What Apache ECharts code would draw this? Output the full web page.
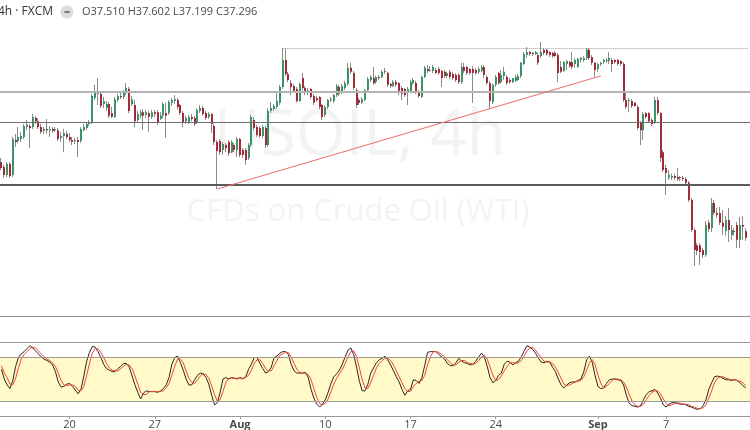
<!DOCTYPE html>
<html><head><meta charset="utf-8">
<script src="https://cdn.jsdelivr.net/npm/echarts@6/dist/echarts.min.js"></script>
<style>html,body{margin:0;padding:0;background:#fff;overflow:hidden}#c{width:750px;height:430px}</style>
</head><body><div id="c"></div>
<script>
// ---- data (USOIL 4h, FXCM) ----
const days = ["Jul 14","Jul 15","Jul 16","Jul 17","Jul 20","Jul 21","Jul 22","Jul 23","Jul 24",
  "Jul 27","Jul 28","Jul 29","Jul 30","Jul 31","Aug 3","Aug 4","Aug 5","Aug 6","Aug 7",
  "Aug 10","Aug 11","Aug 12","Aug 13","Aug 14","Aug 17","Aug 18","Aug 19","Aug 20","Aug 21",
  "Aug 24","Aug 25","Aug 26","Aug 27","Aug 28","Aug 31","Sep 1","Sep 2","Sep 3","Sep 4",
  "Sep 7","Sep 8","Sep 9","Sep 10","Sep 11"];
const hours = ["00:00","04:00","08:00","12:00","16:00","20:00"];

const opens = [39.74,39.58,39.32,39.68,39.32,40.45,40.42,40.48,40.55,40.87,
40.90,40.87,41.16,41.06,40.87,40.74,40.81,40.77,40.81,40.77,
40.77,40.52,40.58,40.65,40.55,40.45,40.42,40.45,40.42,40.77,
40.84,40.97,41.00,41.81,41.94,41.94,41.61,41.48,41.61,41.32,
41.19,41.74,41.87,41.84,41.97,42.10,41.61,41.58,41.10,41.23,
41.35,41.26,41.32,41.19,41.35,41.35,41.13,41.23,41.32,41.32,
41.65,41.71,41.74,41.58,41.32,41.06,41.03,41.19,41.16,41.03,
41.39,41.48,41.32,41.19,41.29,40.90,40.39,40.42,40.13,40.29,
40.39,40.06,40.29,40.13,40.48,40.13,40.13,39.87,40.29,41.10,
40.87,40.84,40.58,40.84,40.29,41.39,41.45,41.52,41.65,42.16,
43.03,42.58,42.29,42.19,42.10,41.71,42.45,42.13,42.00,42.10,
41.87,41.81,41.84,41.58,41.26,41.52,41.74,41.71,41.90,42.16,
42.00,42.13,42.26,42.78,42.61,42.06,41.74,41.65,41.74,42.06,
42.39,42.45,42.32,42.48,42.48,42.65,42.61,42.26,42.19,42.32,
42.29,42.13,42.10,42.03,42.03,42.29,42.29,42.00,41.84,42.48,
42.74,42.71,42.68,42.71,42.74,42.68,42.65,42.52,42.65,42.58,
42.55,42.55,42.32,42.81,42.81,42.74,42.74,42.71,42.65,42.68,
42.81,42.48,42.29,41.68,42.23,42.61,42.32,42.52,42.48,42.39,
42.32,42.36,42.39,42.52,42.90,43.19,43.29,43.26,43.23,43.19,
43.16,43.36,43.36,43.29,43.26,43.26,43.19,42.81,42.68,42.90,
42.97,42.97,42.90,42.81,43.03,43.03,43.10,43.36,43.13,42.94,
42.74,42.90,42.97,43.00,43.00,43.03,43.03,43.03,43.00,42.90,
41.74,41.71,41.71,41.65,41.52,41.00,40.77,41.32,41.32,41.10,
41.00,41.74,41.32,40.06,39.55,39.23,39.23,39.29,39.26,39.23,
39.23,39.19,39.07,38.52,37.55,37.06,37.06,36.90,36.74,37.78,
37.61,38.42,38.10,38.10,37.78,37.52,37.87,37.39,37.52,37.71,
37.23,37.71,37.510];
const closes = [39.55,39.32,39.68,39.29,40.48,40.39,40.55,40.58,40.90,40.94,
40.84,41.19,41.06,40.87,40.71,40.81,40.77,40.81,40.74,40.81,
40.48,40.58,40.68,40.55,40.45,40.39,40.45,40.39,40.81,40.87,
40.97,41.00,41.87,41.97,41.97,41.55,41.71,41.61,41.23,41.19,
41.77,41.87,41.84,42.00,42.13,41.39,41.77,41.06,41.29,41.35,
41.23,41.35,41.19,41.35,41.29,41.00,41.23,41.61,41.23,41.68,
41.74,41.77,41.52,41.32,41.03,41.16,41.19,41.13,40.97,41.42,
41.48,41.29,41.16,41.29,40.97,40.39,40.10,40.06,40.32,40.19,
40.03,40.39,40.13,40.48,39.97,39.97,39.81,40.29,41.19,40.84,
40.61,40.58,40.87,40.29,41.39,41.48,41.55,41.71,42.16,43.03,
42.58,42.39,42.16,42.03,41.71,42.26,42.13,41.97,42.06,41.84,
41.65,41.74,41.52,41.19,41.52,41.74,41.77,41.90,42.19,41.94,
42.19,42.29,42.78,42.65,42.13,41.58,41.65,41.77,42.06,42.42,
42.48,42.29,42.48,42.45,42.65,42.68,42.23,42.19,42.32,42.23,
41.97,41.94,41.90,42.10,42.32,42.39,41.97,41.87,42.48,42.78,
42.68,42.72,42.81,42.61,42.61,42.45,42.52,42.61,42.48,42.45,
42.39,42.32,42.81,42.68,42.61,42.61,42.61,42.61,42.74,42.81,
42.55,42.29,41.71,42.23,42.48,42.29,42.55,42.65,42.29,42.32,
42.45,42.48,42.52,42.94,43.23,43.29,43.23,43.23,43.29,42.94,
43.29,43.26,43.23,43.19,43.16,43.16,42.61,42.65,42.97,43.00,
42.84,42.81,43.03,43.07,43.10,43.10,43.36,43.10,42.94,42.71,
42.90,42.94,43.03,43.03,43.10,42.90,42.97,42.90,42.90,41.74,
41.52,41.74,41.55,41.55,40.84,40.77,41.29,41.19,41.06,40.97,
41.74,41.32,39.87,39.48,39.39,39.32,39.29,39.23,39.19,39.26,
39.19,39.07,38.52,37.55,36.90,36.87,36.84,36.74,37.71,37.58,
38.42,38.10,38.03,37.78,37.65,37.87,37.55,37.55,37.48,37.23,
37.71,37.65,37.296];
const lows = [39.48,39.23,39.26,39.23,39.26,40.23,40.35,40.39,40.48,40.77,
40.19,40.81,40.97,40.81,40.65,40.65,40.65,40.55,40.68,40.71,
40.42,40.39,40.06,40.48,40.39,40.29,40.32,39.90,40.35,40.74,
40.77,40.90,40.97,41.74,41.58,41.48,41.48,41.39,41.16,41.16,
41.16,41.68,41.77,41.77,41.90,41.32,41.55,40.87,41.03,41.16,
40.77,41.16,40.71,41.13,41.19,40.94,41.10,41.16,40.52,41.26,
41.55,41.61,41.45,41.26,40.87,40.97,40.97,41.06,40.90,40.97,
41.32,41.23,41.10,41.13,40.68,40.29,38.87,39.97,39.97,40.06,
39.94,40.03,40.06,39.90,39.90,39.87,39.65,39.81,40.23,40.77,
40.55,40.52,40.52,40.19,40.23,41.32,41.39,41.45,41.58,42.10,
42.52,42.32,41.90,41.97,41.65,41.68,42.06,41.90,41.90,41.77,
41.58,41.68,41.45,41.10,41.19,41.45,41.68,41.65,41.84,41.87,
41.94,42.06,42.19,42.58,42.06,41.48,41.58,41.61,41.71,42.03,
42.32,42.23,42.26,42.39,42.45,42.58,42.16,42.13,42.16,42.16,
41.90,41.74,41.84,41.58,41.97,42.23,41.94,41.81,41.81,42.45,
42.61,42.65,42.61,42.58,42.55,42.16,42.45,42.45,42.42,42.39,
42.32,42.26,42.26,42.61,42.55,42.55,41.65,42.55,42.58,42.65,
42.45,42.23,41.45,41.61,42.16,42.23,42.26,42.39,42.23,42.26,
42.29,42.32,42.36,42.45,42.87,43.10,43.16,43.16,43.19,42.87,
43.10,43.19,43.16,43.13,43.10,43.13,42.32,42.61,42.65,42.71,
42.78,42.74,42.78,42.78,42.94,42.97,43.03,43.03,42.87,42.48,
42.65,42.84,42.90,42.94,42.90,42.65,42.90,42.84,42.84,41.68,
41.45,41.35,41.48,41.52,40.77,40.29,40.45,41.13,41.00,40.90,
40.97,41.26,39.74,39.42,38.68,39.16,39.16,39.16,39.13,39.13,
39.13,39.00,38.45,37.48,36.39,36.74,36.42,36.65,36.68,37.48,
37.48,38.03,37.94,37.71,37.39,37.36,37.16,37.23,37.36,36.97,
36.97,37.23,37.199];
const highs = [39.87,39.65,39.74,39.74,40.55,40.65,40.87,40.71,40.97,41.10,
40.97,41.29,41.23,41.16,40.97,40.87,41.13,40.90,40.87,40.87,
40.84,40.71,40.81,40.74,40.68,40.55,40.52,40.55,40.87,40.97,
41.03,41.10,41.94,42.23,42.45,42.00,41.84,41.71,41.68,41.52,
41.84,41.94,41.97,42.06,42.29,42.16,41.87,41.74,41.39,41.42,
41.45,41.42,41.39,41.42,41.42,41.42,41.35,41.68,41.65,41.74,
41.81,41.90,41.81,41.61,41.39,41.23,41.26,41.29,41.23,41.48,
41.58,41.55,41.39,41.35,41.32,40.97,40.45,40.48,40.39,40.35,
40.45,40.45,40.35,40.55,40.52,40.19,40.19,40.35,41.26,41.19,
40.94,40.90,40.94,40.90,41.48,41.68,41.61,41.97,42.23,43.42,
43.42,42.65,42.39,42.26,42.16,42.32,42.61,42.19,42.13,42.13,
41.94,41.87,41.87,41.61,41.58,41.77,41.84,41.94,42.26,42.23,
42.26,42.36,42.94,42.94,42.68,42.13,41.81,41.84,42.10,42.48,
42.55,42.81,42.52,42.55,42.71,42.78,42.65,42.29,42.39,42.39,
42.32,42.19,42.13,42.16,42.39,42.45,42.36,42.06,42.52,42.84,
42.87,42.84,42.87,42.78,42.81,42.71,42.71,42.65,42.71,42.65,
42.61,42.61,42.94,42.94,42.84,42.78,42.84,42.78,42.81,42.87,
42.87,42.55,42.36,42.26,42.55,42.65,42.71,42.81,42.55,42.45,
42.45,42.55,42.58,42.97,43.29,43.45,43.32,43.29,43.32,43.26,
43.61,43.42,43.39,43.32,43.29,43.32,43.26,43.00,43.00,43.03,
43.00,43.29,43.10,43.10,43.13,43.16,43.42,43.42,43.19,42.97,
42.94,42.97,43.07,43.10,43.29,43.10,43.07,43.07,43.03,42.97,
41.97,41.81,41.77,41.68,41.58,41.06,41.35,41.35,41.35,41.16,
41.84,41.84,41.35,40.13,39.65,39.48,39.36,39.36,39.55,39.29,
39.29,39.26,39.13,38.58,37.61,37.13,37.13,36.97,37.84,37.87,
38.58,38.52,38.26,38.29,38.19,38.00,38.26,37.71,37.61,37.81,
37.97,38.00,37.602];

// Stochastic %K (black) and %D (red)
const stochK = [63,50,42,37,48,67,79,84,87,91,
95,92,88,84,80,77,75,73,69,60,
46,39,40,43,44,40,35,30,36,54,
74,86,94,93,87,79,70,64,62,60,
60,64,67,71,71,66,54,42,32,23,
31,34,33,33,33,32,34,37,42,52,
70,79,81,72,62,50,42,42,49,55,
58,57,52,43,28,15,18,32,50,52,
50,52,51,50,52,50,53,63,70,79,
79,71,64,58,60,66,79,81,85,87,
87,83,70,61,58,58,58,59,52,36,
24,16,12,16,22,32,44,53,57,62,
70,80,89,92,83,66,47,34,34,43,
58,65,72,76,78,81,76,69,61,53,
46,36,28,34,36,49,48,44,52,68,
86,87,87,87,83,80,77,71,68,68,
72,78,74,72,71,69,70,74,80,85,
80,67,52,45,48,55,58,70,74,73,
69,72,74,80,88,95,93,90,85,78,
73,72,74,73,66,60,50,42,38,42,
45,46,46,48,50,60,76,81,72,54,
40,37,38,44,49,50,50,49,48,42,
28,17,14,13,12,14,22,29,33,34,
36,31,24,15,12,16,18,18,17,16,
16,15,13,12,10,9,10,14,22,36,
45,53,54,53,51,49,49,48,49,48,
45,41,38];
const stochD = [68,58,52,43,42,51,65,77,83,87,
91,93,92,88,84,80,77,75,72,67,
58,48,42,41,42,42,40,35,34,40,
55,71,85,91,91,86,79,71,65,62,
61,61,64,67,70,69,64,54,43,32,
29,29,33,33,33,33,33,34,38,44,
55,67,77,77,72,61,51,45,44,49,
54,57,56,51,41,29,20,22,33,45,
51,51,51,51,51,51,52,55,62,71,
76,76,71,64,61,61,68,75,82,84,
86,86,80,71,63,59,58,58,56,49,
37,25,17,15,17,23,33,43,51,57,
63,71,80,87,88,80,65,49,38,37,
45,55,65,71,75,78,78,75,69,61,
53,45,37,33,33,40,44,47,48,55,
69,80,87,87,86,83,80,76,72,69,
69,73,75,75,72,71,70,71,75,80,
82,77,66,55,48,49,54,61,67,72,
72,71,72,75,81,88,92,93,89,84,
79,74,73,73,71,66,59,51,43,41,
42,44,46,47,48,53,62,72,76,69,
55,44,38,40,44,48,50,50,49,46,
39,29,20,15,13,13,16,22,28,32,
34,34,30,23,17,14,15,17,18,17,
16,16,15,13,12,10,10,11,15,24,
34,45,51,53,53,51,50,49,49,48,
47,45,41];

// x-axis tick labels
const tickDays = ["Jul 20","Jul 27","Aug 3","Aug 10","Aug 17","Aug 24","Sep 1","Sep 7"];
const tickLabels = ["20","27","Aug","10","17","24","Sep","7"];

// drawn levels
const levelPrices = [42.00, 41.03, 39.00];
const topLevel = 43.42;            // dotted line from the Aug high
const topLevelStartBar = 99;
const trendFrom = [76, 38.87];     // bar index, price
const trendTo = [211, 42.52];

// stochastic levels
const stochBand = [20, 80];
const stochTop = 100;

// header values
const headerText = "O37.510 H37.602 L37.199 C37.296";

// ---- build ----
const cats = [];
days.forEach(d => hours.forEach(h => cats.push(d + ' ' + h)));
const tickMap = {};
tickDays.forEach((d, k) => { tickMap[d + ' 00:00'] = tickLabels[k]; });
const candleData = opens.map((o, i) => [i, o, closes[i], lows[i], highs[i]]);

const UP = '#3b9467', DOWN = '#a02c3a', WICK = '#8a8a8a';
const STEP = 2.85;
const GL = -0.8, GW = STEP * cats.length;

function renderCandle(params, api) {
  const idx = api.value(0);
  const o = api.value(1), c = api.value(2), lo = api.value(3), hi = api.value(4);
  const pO = api.coord([idx, o]), pC = api.coord([idx, c]);
  const pL = api.coord([idx, Math.min(lo, o, c)]), pH = api.coord([idx, Math.max(hi, o, c)]);
  const x = Math.round(pO[0]);
  const top = Math.min(pO[1], pC[1]);
  const h = Math.max(1, Math.abs(pO[1] - pC[1]));
  return {
    type: 'group',
    children: [
      { type: 'line', shape: { x1: x - 0.5, y1: pH[1], x2: x - 0.5, y2: pL[1] }, style: { stroke: WICK, lineWidth: 1 } },
      { type: 'rect', shape: { x: x - 1, y: top, width: 2, height: h }, style: { fill: c >= o ? UP : DOWN } }
    ]
  };
}

const isTick = (i, v) => tickMap[v] !== undefined;
const font = '"Open Sans", "Noto Sans", sans-serif';

const chart = echarts.init(document.getElementById('c'), null, { renderer: 'canvas' });
chart.setOption({
  animation: false,
  backgroundColor: '#ffffff',
  textStyle: { fontFamily: font },
  graphic: [
    { type: 'text', z: 0, left: 'center', style: { text: '' } },
    { type: 'text', z: 0, x: 360, y: 137, style: { text: 'USOIL, 4h', fontSize: 64, fontFamily: font, fill: '#f3f3f3', align: 'center', verticalAlign: 'middle' } },
    { type: 'text', z: 0, x: 358, y: 212, style: { text: 'CFDs on Crude Oil (WTI)', fontSize: 31, fontFamily: font, fill: '#f3f3f3', align: 'center', verticalAlign: 'middle' } },
    { type: 'line', z: 5, shape: { x1: 0, y1: 316.5, x2: 750, y2: 316.5 }, style: { stroke: '#8e8e8e', lineWidth: 1 } },
    { type: 'text', z: 10, x: -2, y: 12, style: { text: '4h · FXCM', fontSize: 12, fontFamily: font, fill: '#333', verticalAlign: 'middle' } },
    { type: 'circle', z: 10, shape: { cx: 67, cy: 12, r: 6.5 }, style: { fill: '#dcdcdc' } },
    { type: 'rect', z: 11, shape: { x: 64.5, y: 11.3, width: 5, height: 1.5 }, style: { fill: '#555' } },
    { type: 'text', z: 10, x: 82, y: 12, style: { text: headerText, fontSize: 11, fontFamily: font, fill: '#4a4a4a', verticalAlign: 'middle' } }
  ],
  grid: [
    { left: GL, top: 0, width: GW, height: 316 },
    { left: GL, top: 342, width: GW, height: 75 }
  ],
  xAxis: [
    { type: 'category', gridIndex: 0, data: cats, show: false },
    {
      type: 'category', gridIndex: 1, data: cats,
      axisLine: { show: true, lineStyle: { color: '#9a9a9a', width: 1 } },
      axisTick: { show: true, interval: isTick, alignWithLabel: true, length: 3, lineStyle: { color: '#9a9a9a' } },
      axisLabel: {
        interval: isTick, margin: 3, fontSize: 11, color: '#4a4a4a', fontFamily: font, hideOverlap: false,
        formatter: v => { const t = tickMap[v]; if (!t) return ''; return (t === 'Aug' || t === 'Sep') ? '{b|' + t + '}' : t; },
        rich: { b: { fontWeight: 'bold', fontSize: 11, color: '#4a4a4a', fontFamily: font } }
      },
      splitLine: { show: false }
    }
  ],
  yAxis: [
    { type: 'value', gridIndex: 0, min: 34.774, max: 44.968, show: false, splitLine: { show: false } },
    { type: 'value', gridIndex: 1, min: 0, max: 100, show: false, splitLine: { show: false } }
  ],
  series: [
    {
      type: 'custom', name: 'USOIL', xAxisIndex: 0, yAxisIndex: 0, z: 3,
      renderItem: renderCandle,
      encode: { x: 0, y: [1, 2, 3, 4] },
      data: candleData,
      markLine: {
        silent: true, symbol: ['none', 'none'], label: { show: false }, animation: false,
        data: [
          { yAxis: levelPrices[0], lineStyle: { color: '#b3b3b3', width: 2, type: 'solid' } },
          { yAxis: levelPrices[1], lineStyle: { color: '#6e6e6e', width: 1, type: 'solid' } },
          { yAxis: levelPrices[2], lineStyle: { color: '#5c5c5c', width: 2, type: 'solid' } },
          [ { coord: [topLevelStartBar, topLevel], lineStyle: { color: '#a0a0a0', width: 1, type: 'dotted' } }, { coord: [cats.length - 1, topLevel] } ],
          [ { coord: trendFrom, lineStyle: { color: '#f06a6a', width: 1, type: 'solid' } }, { coord: trendTo } ]
        ]
      }
    },
    {
      type: 'line', name: 'band', xAxisIndex: 1, yAxisIndex: 1, z: 1, data: [],
      markArea: { silent: true, itemStyle: { color: '#fffac8' }, data: [[{ yAxis: stochBand[0] }, { yAxis: stochBand[1] }]] },
      markLine: {
        silent: true, symbol: ['none', 'none'], label: { show: false }, animation: false,
        lineStyle: { color: '#9a9a9a', width: 1, type: 'solid' },
        data: [ { yAxis: stochBand[0] }, { yAxis: stochBand[1] }, { yAxis: stochTop } ]
      }
    },
    {
      type: 'line', name: '%K', xAxisIndex: 1, yAxisIndex: 1, z: 3, data: stochK,
      showSymbol: false, symbol: 'none', lineStyle: { color: '#262626', width: 1 }
    },
    {
      type: 'line', name: '%D', xAxisIndex: 1, yAxisIndex: 1, z: 4, data: stochD,
      showSymbol: false, symbol: 'none', lineStyle: { color: '#f2452f', width: 1 }
    }
  ]
});
</script>
</body></html>
